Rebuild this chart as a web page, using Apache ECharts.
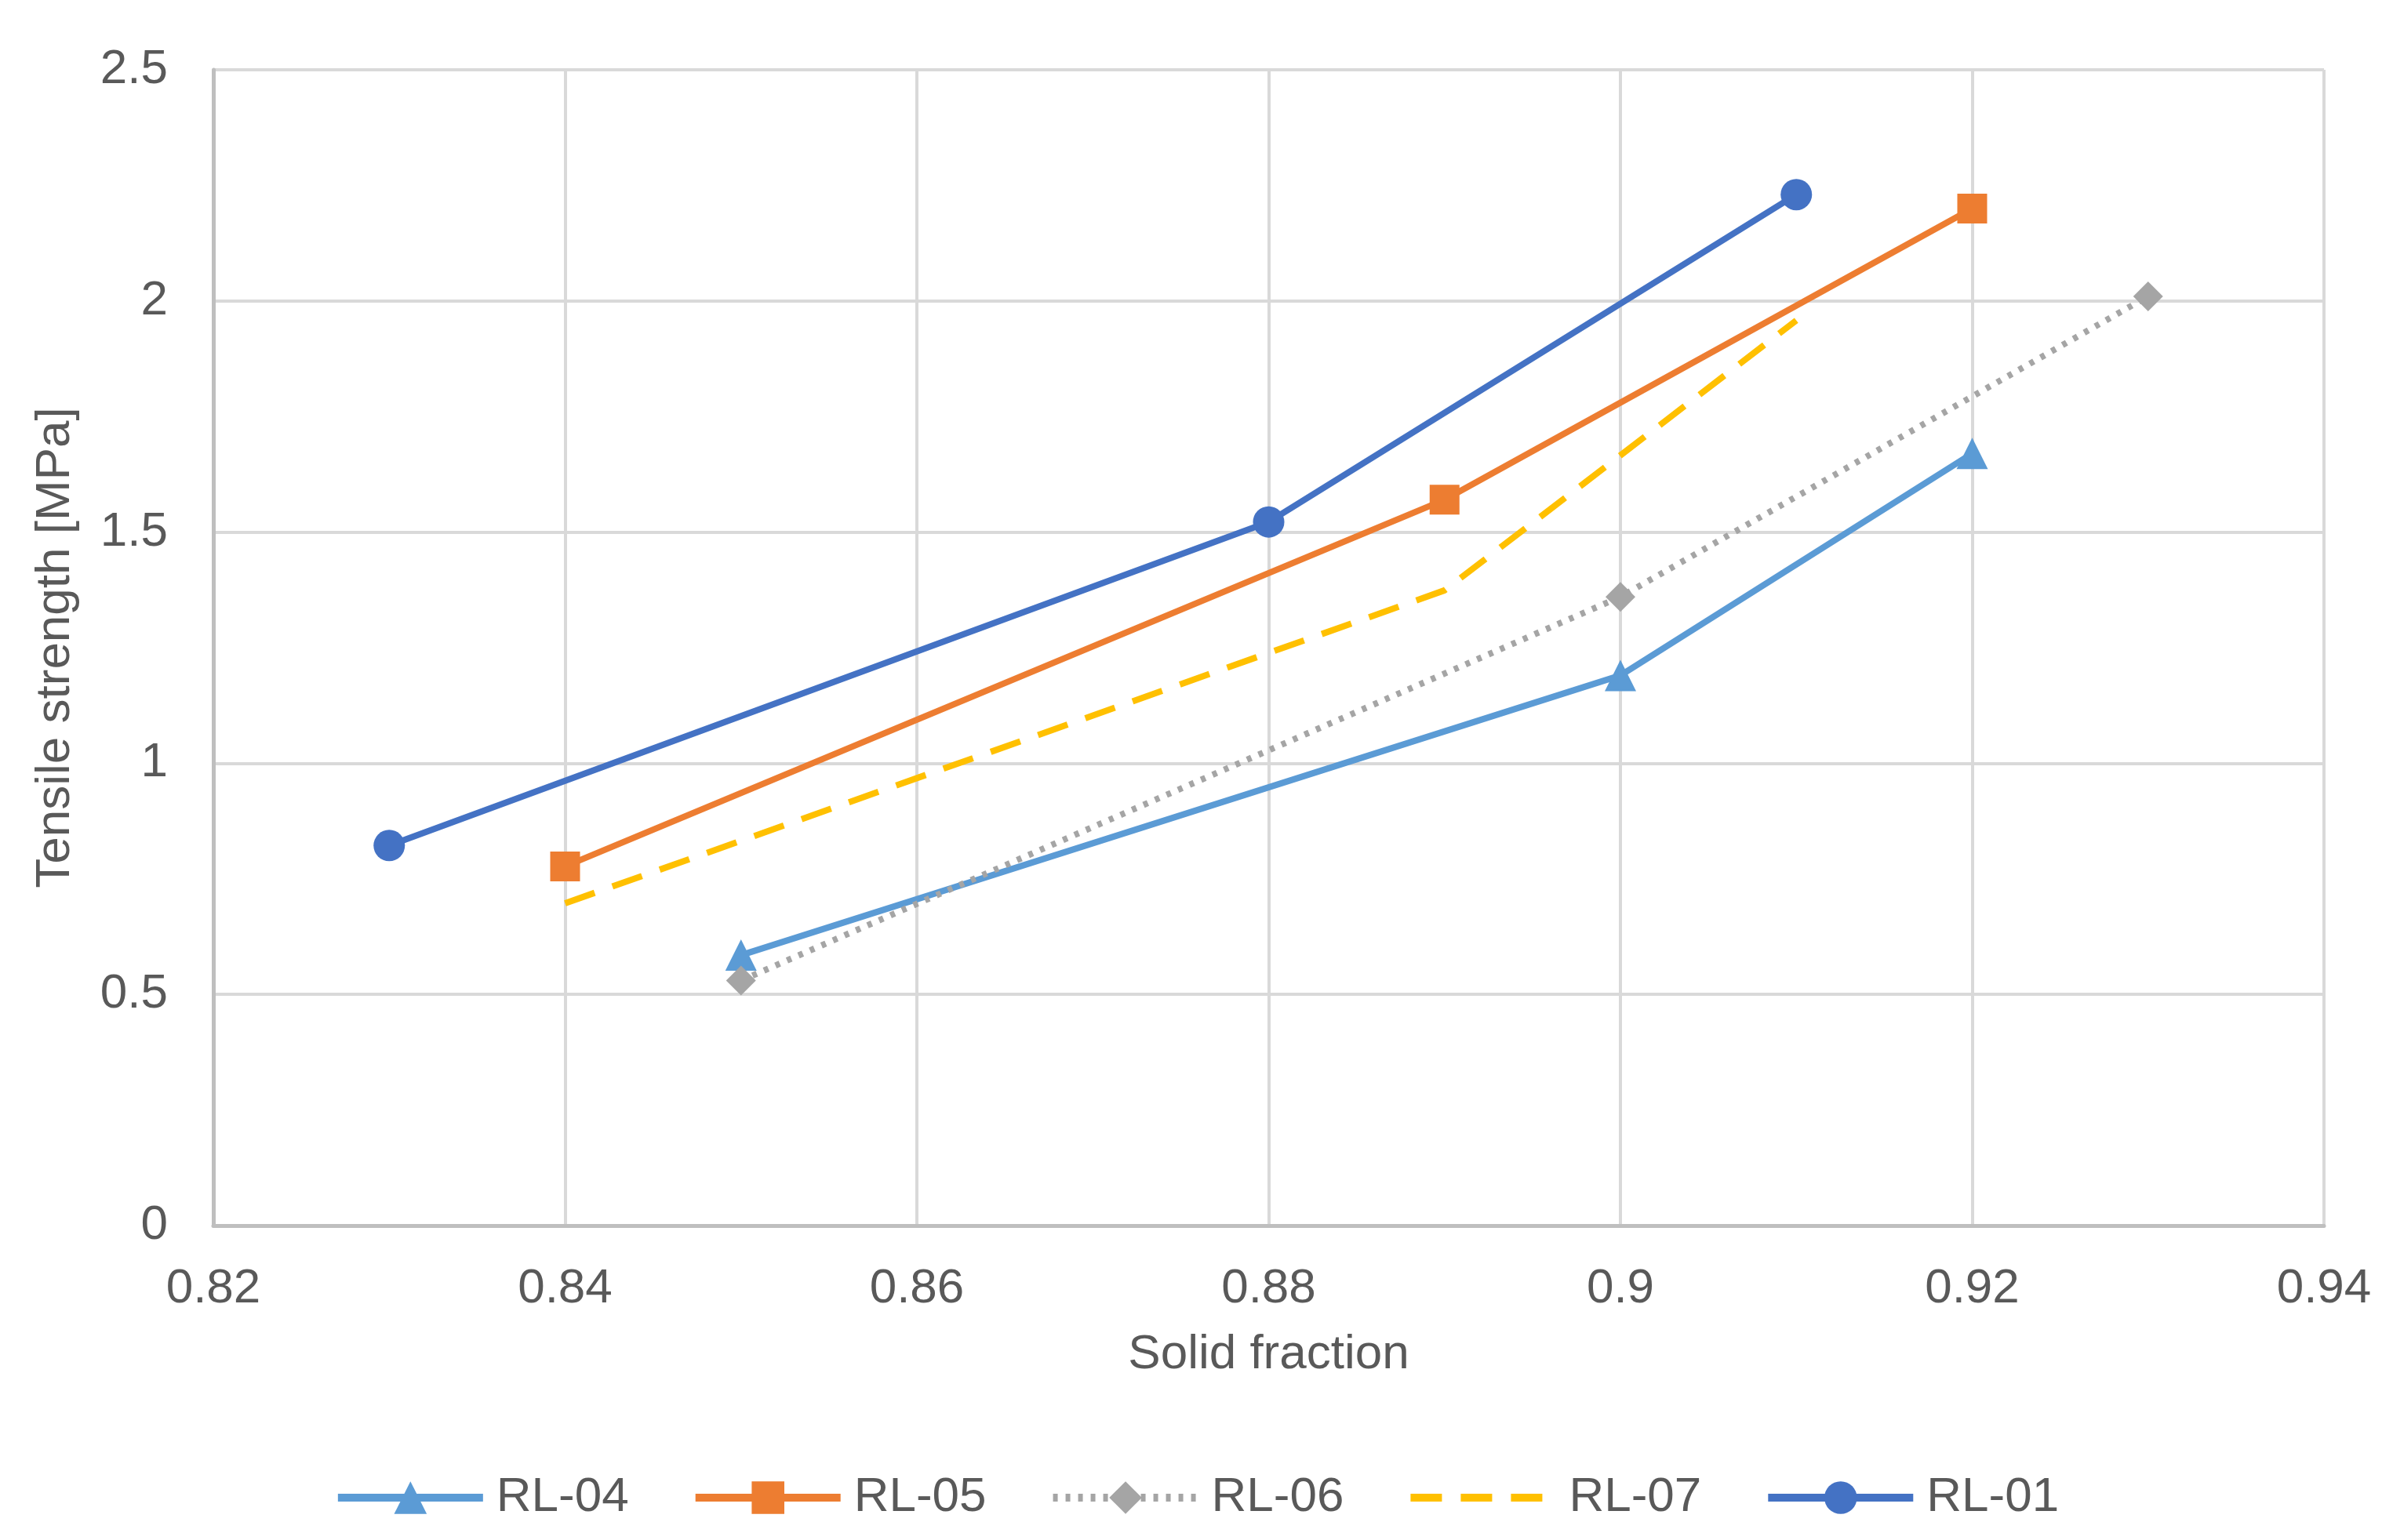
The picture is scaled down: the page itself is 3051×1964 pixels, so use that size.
<!DOCTYPE html>
<html><head><meta charset="utf-8">
<script src="https://cdn.jsdelivr.net/npm/echarts@6/dist/echarts.min.js"></script>
<style>html,body{margin:0;padding:0;background:#fff}#c{width:3051px;height:1964px}</style>
</head><body><div id="c"></div>
<script>
const seriesNames = ['RL-04','RL-05','RL-06','RL-07','RL-01'];
const rl04 = [[0.85,0.585],[0.90,1.19],[0.92,1.67]];
const rl05 = [[0.84,0.777],[0.89,1.57],[0.92,2.20]];
const rl06 = [[0.85,0.53],[0.90,1.36],[0.93,2.01]];
const rl07 = [[0.84,0.697],[0.89,1.374],[0.91,1.958]];
const rl01 = [[0.83,0.822],[0.88,1.522],[0.91,2.23]];
const xTicks = {min:0.82, max:0.94, step:0.02};
const yTicks = {min:0, max:2.5, step:0.5};

const font = '"Liberation Sans", Arial, sans-serif';
const txt = '#595959';
const fs = 62;
function mk(name, data, color, symbol, lineType, showSym, symSize){
  return {name, type:'line', data, symbol, symbolSize:symSize, showSymbol:showSym,
    lineStyle:{color, width:8, type:lineType, cap:'butt'},
    itemStyle:{color}, emphasis:{disabled:true}, z: 2};
}
const chart = echarts.init(document.getElementById('c'), null, {renderer:'canvas'});
chart.setOption({
  animation:false,
  backgroundColor:'#fff',
  grid:{left:272, right:88, top:89, bottom:401},
  xAxis:{type:'value', min:xTicks.min, max:xTicks.max, interval:xTicks.step,
    name:'Solid fraction', nameLocation:'middle', nameGap:134,
    nameTextStyle:{color:txt, fontSize:fs, fontFamily:font},
    axisLine:{show:true, lineStyle:{color:'#bfbfbf', width:5}},
    axisTick:{show:false},
    axisLabel:{color:txt, fontSize:fs, fontFamily:font, margin:50,
      formatter:v=>String(+v.toFixed(2))},
    splitLine:{show:true, lineStyle:{color:'#d9d9d9', width:4}}},
  yAxis:{type:'value', min:yTicks.min, max:yTicks.max, interval:yTicks.step,
    name:'Tensile strength [MPa]', nameLocation:'middle', nameGap:170,
    nameTextStyle:{color:txt, fontSize:fs, fontFamily:font},
    axisLine:{show:true, lineStyle:{color:'#bfbfbf', width:5}},
    axisTick:{show:false},
    axisLabel:{color:txt, fontSize:fs, fontFamily:font, margin:58,
      formatter:v=>String(+v.toFixed(1))},
    splitLine:{show:true, lineStyle:{color:'#d9d9d9', width:4}}},
  legend:{bottom:18, left:'center', itemWidth:185, itemHeight:52, itemGap:80,
    textStyle:{color:txt, fontSize:fs, fontFamily:font, padding:[0,0,0,12]},
    lineStyle:{width:10},
    data:[
      {name:'RL-04'},{name:'RL-05'},{name:'RL-06'},
      {name:'RL-07', itemStyle:{opacity:0}},
      {name:'RL-01'}
    ]},
  series:[
    mk('RL-04', rl04, '#5B9BD5', 'triangle', 'solid', true, 40),
    mk('RL-05', rl05, '#ED7D31', 'rect', 'solid', true, 38),
    mk('RL-06', rl06, '#A5A5A5', 'diamond', [6,10], true, 38),
    mk('RL-07', rl07, '#FFC000', 'circle', [40,24], false, 0),
    mk('RL-01', rl01, '#4472C4', 'circle', 'solid', true, 40)
  ]
});
</script></body></html>
